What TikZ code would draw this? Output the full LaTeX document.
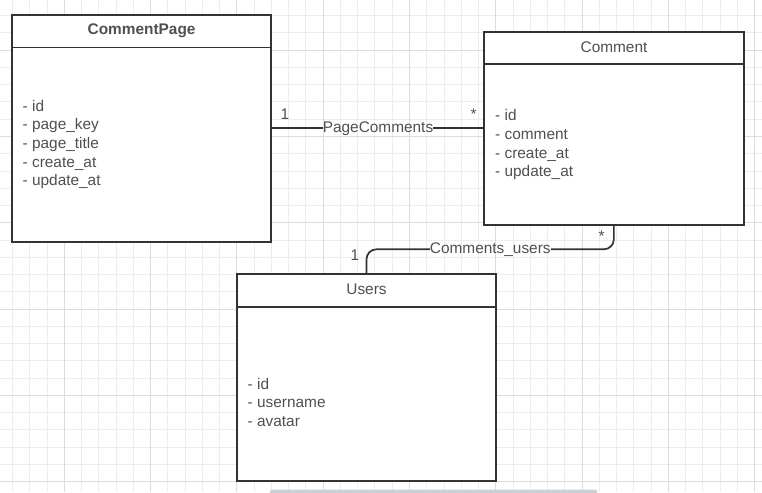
\documentclass[tikz,border=0pt]{standalone}
\usepackage{fontspec}
\setmainfont{Liberation Sans}
\definecolor{linec}{HTML}{333333}
\definecolor{txt}{HTML}{505050}
\definecolor{gridminor}{HTML}{EDEDED}
\definecolor{gridmajor}{HTML}{DCDCDC}
\definecolor{barc}{HTML}{CBD0D5}
\newcommand\attrlines[1]{\vtop{\baselineskip=18.7pt\lineskiplimit=-20pt #1}}
\tikzset{
  entity/.style={draw=linec, line width=1.7pt, fill=white, anchor=north west, inner sep=0pt, outer sep=0pt},
  ttl/.style={text=txt, inner sep=0pt, anchor=base},
  attr/.style={text=txt, inner sep=0pt, anchor=base west},
  conn/.style={draw=linec, line width=1.7pt},
  mult/.style={text=txt, inner sep=0pt, anchor=base},
  rel/.style={text=txt, inner sep=0pt},
  gminor/.style={draw=gridminor, line width=1pt},
  gmajor/.style={draw=gridmajor, line width=1pt},
}
\begin{document}
\begin{tikzpicture}[x=1pt, y=-1pt, font=\fontsize{15.4pt}{18.7pt}\selectfont]
\useasboundingbox (0,0) rectangle (762,492);
\fill[white] (0,0) rectangle (762,492);
% grid
\foreach \i in {0,...,43} {\draw[gminor] ({12.5+17.26*\i},0) -- ({12.5+17.26*\i},492);}
\foreach \j in {0,...,27} {\draw[gminor] (0,{15.7+17.26*\j}) -- (762,{15.7+17.26*\j});}
\foreach \i in {0,...,8} {\draw[gmajor] ({64.3+86.3*\i},0) -- ({64.3+86.3*\i},492);}
\foreach \j in {0,...,5} {\draw[gmajor] (0,{481.7-86.3*\j}) -- (762,{481.7-86.3*\j});}
\fill[barc, rounded corners=1.5pt] (270,489.5) rectangle (597,494);

% entities
\node[entity, minimum width=259.3pt, minimum height=226.7pt] (cp) at (12,15) {};
\draw[conn] ([yshift=-32.6pt]cp.north west) -- ([yshift=-32.6pt]cp.north east);
\node[ttl, font=\fontsize{15.4pt}{18.7pt}\selectfont\bfseries] (cpt) at (141.6,35) {CommentPage};
\node[attr] (cpa) at (22.5,111) {\attrlines{\hbox{- id}\hbox{- page\_key}\hbox{- page\_title}\hbox{- create\_at}\hbox{- update\_at}}};

\node[entity, minimum width=259.7pt, minimum height=192.7pt] (cm) at (484,32) {};
\draw[conn] ([yshift=-32.3pt]cm.north west) -- ([yshift=-32.3pt]cm.north east);
\node[ttl] (cmt) at (614,52.3) {Comment};
\node[attr] (cma) at (495,120.7) {\attrlines{\hbox{- id}\hbox{- comment}\hbox{- create\_at}\hbox{- update\_at}}};

\node[entity, minimum width=259.6pt, minimum height=207.3pt] (us) at (236.7,274) {};
\draw[conn] ([yshift=-32.7pt]us.north west) -- ([yshift=-32.7pt]us.north east);
\node[ttl] (ust) at (366.5,294.3) {Users};
\node[attr] (usa) at (247.5,389) {\attrlines{\hbox{- id}\hbox{- username}\hbox{- avatar}}};

% PageComments
\node[rel] (pcl) at (378,128.3) {PageComments};
\draw[conn] (cp.east |- pcl.west) -- (pcl.west);
\draw[conn] (pcl.east) -- (cm.west |- pcl.east);
\node[mult] (pc1) at (285,119.5) {1};
\node[mult] (pcm) at (473.7,120) {*};

% Comments_users
\node[rel] (cul) at (490.3,249.3) {Comments\_users};
\draw[conn, rounded corners=10pt] (cm.south) |- (cul.east);
\draw[conn, rounded corners=10pt] (cul.west) -| (us.north);
\node[mult] (cum) at (601.7,241) {*};
\node[mult] (cu1) at (355,260) {1};
\end{tikzpicture}
\end{document}
